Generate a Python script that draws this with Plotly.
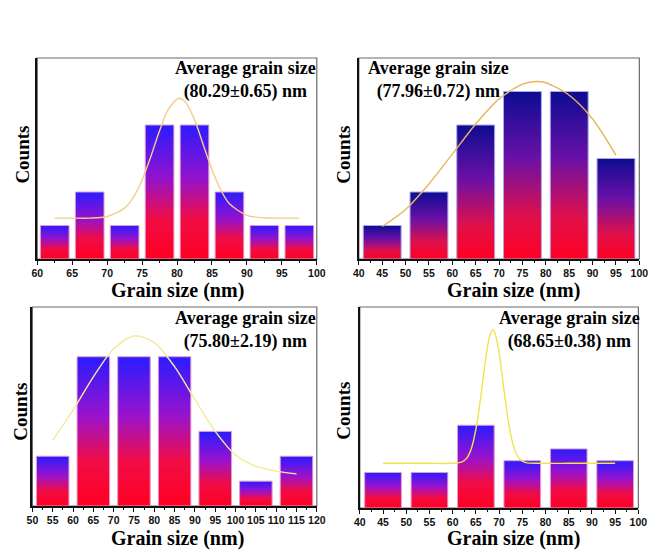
import plotly.graph_objects as go

# ---------------- data ----------------
p1_bins = [62.5, 67.5, 72.5, 77.5, 82.5, 87.5, 92.5, 97.5]
p1_counts = [1, 2, 1, 4, 4, 2, 1, 1]
p1_fit_x = [62.5, 65, 67.5, 70, 72.5, 73.75, 75, 76.25, 77.5, 78.75, 80.29, 81.25, 82.5, 83.75, 85, 86.25, 87.5, 90, 92.5, 95, 97.5]
p1_fit_y = [1.22, 1.22, 1.22, 1.27, 1.52, 1.84, 2.36, 3.06, 3.83, 4.47, 4.80, 4.67, 4.16, 3.41, 2.67, 2.06, 1.65, 1.30, 1.23, 1.22, 1.22]
p1_text = ["Average grain size", "(80.29±0.65) nm"]

p2_bins = [45, 55, 65, 75, 85, 95]
p2_counts = [1, 2, 4, 5, 5, 3]
p2_fit_x = [45, 50, 55, 60, 65, 70, 75, 78, 80, 85, 90, 95]
p2_fit_y = [0.97, 1.48, 2.24, 3.13, 4.03, 4.78, 5.22, 5.30, 5.26, 4.89, 4.18, 3.10]
p2_text = ["Average grain size", "(77.96±0.72) nm"]

p3_bins = [55, 65, 75, 85, 95, 105, 115]
p3_counts = [2, 6, 6, 6, 3, 1, 2]
p3_fit_x = [55, 60, 65, 70, 75, 80, 85, 90, 95, 100, 105, 110, 115]
p3_fit_y = [2.64, 3.85, 5.19, 6.32, 6.84, 6.57, 5.60, 4.28, 3.00, 2.05, 1.60, 1.40, 1.29]
p3_text = ["Average grain size", "(75.80±2.19) nm"]

p4_bins = [45, 55, 65, 75, 85, 95]
p4_counts = [3, 3, 7, 4, 5, 4]
p4_fit_x = [45, 50, 55, 60, 62, 63, 64, 65, 66, 67, 68, 68.65, 69, 70, 71, 72, 73, 74, 75, 76, 80, 85, 90, 95]
p4_fit_y = [3.78, 3.78, 3.78, 3.78, 3.90, 4.20, 4.99, 6.64, 9.25, 12.31, 14.60, 15.08, 14.93, 13.15, 10.16, 7.33, 5.38, 4.37, 3.96, 3.82, 3.78, 3.78, 3.78, 3.78]
p4_text = ["Average grain size", "(68.65±0.38) nm"]

x_title = "Grain size (nm)"
y_title = "Counts"

# ---------------- styles ----------------
W, H = 663, 553
panels = [
    dict(bins=p1_bins, counts=p1_counts, fx=p1_fit_x, fy=p1_fit_y, text=p1_text,
         bw=4.1, xr=[60, 100], dt=5, yr=[0, 6], box=(32, 318, 58, 259),
         tx=(245, 80.4), xt=(175, 290), yt=(17, 155),
         cs=[[0, '#ff0022'], [0.3, '#f00c45'], [0.6, '#9412cc'], [1, '#2a1cff']],
         edge='#e29ad0', curve='#f3cc8c'),
    dict(bins=p2_bins, counts=p2_counts, fx=p2_fit_x, fy=p2_fit_y, text=p2_text,
         bw=8.1, xr=[40, 100], dt=5, yr=[0, 6], box=(361, 648, 58, 259),
         tx=(442, 80.4), xt=(519, 290), yt=(345.5, 155),
         cs=[[0, '#ff0022'], [0.25, '#e0104a'], [0.6, '#6a10a6'], [1, '#0c0c92']],
         edge='#a8a8f0', curve='#e9b65e'),
    dict(bins=p3_bins, counts=p3_counts, fx=p3_fit_x, fy=p3_fit_y, text=p3_text,
         bw=8.0, xr=[50, 120], dt=5, yr=[0, 8], box=(27, 318, 307, 506),
         tx=(245, 330), xt=(175, 538), yt=(14, 412),
         cs=[[0, '#ff0022'], [0.3, '#f20c45'], [0.6, '#9a12cc'], [1, '#2a1cff']],
         edge='#e29ad0', curve='#f2ea9c'),
    dict(bins=p4_bins, counts=p4_counts, fx=p4_fit_x, fy=p4_fit_y, text=p4_text,
         bw=7.9, xr=[40, 100], dt=5, yr=[0, 17], box=(362, 647, 307, 508),
         tx=(577, 330), xt=(519, 538), yt=(344.5, 411),
         cs=[[0, '#ff0022'], [0.3, '#f20c45'], [0.6, '#9a12cc'], [1, '#2a1cff']],
         edge='#e29ad0', curve='#f2e24e'),
]

serif = "Liberation Serif"
sans = "Liberation Sans"

fig = go.Figure()
annotations = []
shapes = []
layout = {}

for i, p in enumerate(panels, start=1):
    xa = f"x{i}" if i > 1 else "x"
    ya = f"y{i}" if i > 1 else "y"
    # gradient bars
    for c, h in zip(p["bins"], p["counts"]):
        x0, x1 = c - p["bw"] / 2, c + p["bw"] / 2
        fig.add_trace(go.Scatter(
            x=[x0, x0, x1, x1, x0], y=[0, h, h, 0, 0],
            mode="lines", fill="toself",
            fillgradient=dict(type="vertical", colorscale=p["cs"]),
            line=dict(color=p["edge"], width=1),
            xaxis=xa, yaxis=ya, showlegend=False, hoverinfo="skip"))
    # texture overlay
    fig.add_trace(go.Bar(
        x=p["bins"], y=p["counts"], width=p["bw"],
        marker=dict(color="rgba(0,0,0,0)", line=dict(width=0),
                    pattern=dict(shape=".", size=9, solidity=0.5,
                                 fgcolor="rgba(200,20,150,0.30)", fillmode="overlay")),
        xaxis=xa, yaxis=ya, showlegend=False, hoverinfo="skip"))
    # fit curve
    fig.add_trace(go.Scatter(
        x=p["fx"], y=p["fy"], mode="lines",
        line=dict(color=p["curve"], width=1.4, shape="spline", smoothing=0.8),
        xaxis=xa, yaxis=ya, showlegend=False, hoverinfo="skip"))

    L, R, T, B = p["box"]
    xd = [L / W, R / W]
    yd = [1 - B / H, 1 - T / H]
    kx = "xaxis" if i == 1 else f"xaxis{i}"
    ky = "yaxis" if i == 1 else f"yaxis{i}"
    layout[kx] = dict(domain=xd, anchor=ya, range=p["xr"], dtick=p["dt"], tick0=0,
                      showgrid=False, zeroline=False, showline=True, linecolor="#111",
                      linewidth=1.5, ticks="outside", ticklen=4, tickwidth=1, tickcolor="#111",
                      tickfont=dict(family=sans, size=10.5, color="#111", weight="bold"),
                      minor=dict(ticks="outside", ticklen=2.5, dtick=p["dt"] / 2, tickcolor="#111", showgrid=False),
                      fixedrange=True)
    layout[ky] = dict(domain=yd, anchor=xa, range=p["yr"], showgrid=False, zeroline=False,
                      showline=True, linecolor="#111", linewidth=1.5, showticklabels=False,
                      ticks="", fixedrange=True)
    shapes.append(dict(type="rect", xref=f"{xa} domain", yref=f"{ya} domain",
                       x0=0, x1=1, y0=0, y1=1, line=dict(color="#6a6a6a", width=1.2),
                       layer="below"))
    tx, ty = p["tx"]
    annotations.append(dict(x=tx / W, y=1 - ty / H, xref="paper", yref="paper",
                            text=p["text"][0] + "<br>" + p["text"][1],
                            showarrow=False, xanchor="center", yanchor="middle", align="center",
                            font=dict(family=serif, size=18, color="black", weight="bold")))
    annotations.append(dict(x=p["xt"][0] / W, y=1 - p["xt"][1] / H, xref="paper", yref="paper",
                            text=x_title, showarrow=False, xanchor="center", yanchor="middle",
                            font=dict(family=serif, size=20, color="black", weight="bold")))
    annotations.append(dict(x=p["yt"][0] / W, y=1 - p["yt"][1] / H, xref="paper", yref="paper",
                            text=y_title, showarrow=False, xanchor="center", yanchor="middle",
                            textangle=-90,
                            font=dict(family=serif, size=19, color="black", weight="bold")))

fig.update_layout(width=W, height=H, margin=dict(l=0, r=0, t=0, b=0),
                  paper_bgcolor="white", plot_bgcolor="white",
                  barmode="overlay", annotations=annotations, shapes=shapes, **layout)

fig.write_html("out.html")
